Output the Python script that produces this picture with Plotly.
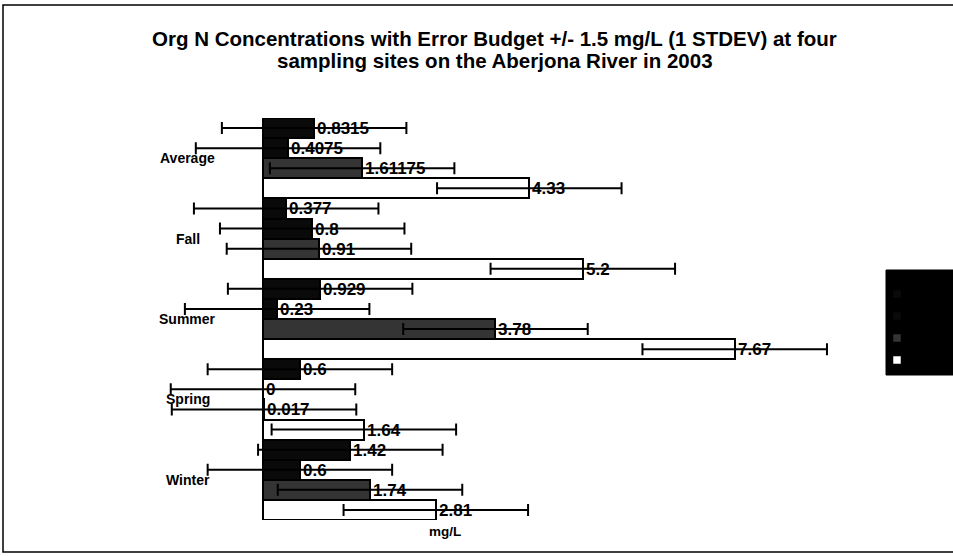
import plotly.graph_objects as go

# Seasons, bottom to top on the category axis
seasons = ["Winter", "Spring", "Summer", "Fall", "Average"]

# Org N concentrations (mg/L) for each sampling site, per season
site1 = [1.42, 0.6, 0.929, 0.377, 0.8315]
site2 = [0.6, 0, 0.23, 0.8, 0.4075]
site3 = [1.74, 0.017, 3.78, 0.91, 1.61175]
site4 = [2.81, 1.64, 7.67, 5.2, 4.33]
site_names = ["Site 1", "Site 2", "Site 3", "Site 4"]

error_budget = 1.5  # +/- 1 STDEV, mg/L

W, H = 953, 556
PL, PR, PT, PB = 128, 860, 118, 520     # plot area in pixels
X_MIN, X_MAX = -2.195, 9.707

FONT = "Liberation Sans, Arial, sans-serif"

# draw order: first trace sits at the bottom of each group
series = [
    (site_names[3], site4, "#ffffff"),
    (site_names[2], site3, "#343434"),
    (site_names[1], site2, "#0a0a0a"),
    (site_names[0], site1, "#0a0a0a"),
]

fig = go.Figure()
for name, vals, color in series:
    fig.add_trace(go.Bar(
        name=name,
        y=seasons,
        x=vals,
        orientation="h",
        marker=dict(color=color, line=dict(color="black", width=2)),
        error_x=dict(type="data", array=[error_budget] * len(vals),
                     symmetric=True, color="black", thickness=2, width=6),
        text=[f"{v:g}" for v in vals],
        textposition="outside",
        textfont=dict(family=FONT, size=17, color="black", weight="bold"),
        constraintext="none",
        cliponaxis=False,
        showlegend=False,
    ))


def px_x(p):
    return (p - PL) / (PR - PL)


def px_y(p):
    return (PB - p) / (PB - PT)


annotations = []
# title, one annotation per line to control the line spacing
for line, yc in [("Org N Concentrations with Error Budget +/- 1.5 mg/L (1 STDEV) at four", 38),
                 ("sampling sites on the Aberjona River in 2003", 60)]:
    annotations.append(dict(
        x=px_x(495), y=px_y(yc), xref="paper", yref="paper", text=line,
        showarrow=False, xanchor="center", yanchor="middle",
        font=dict(family=FONT, size=20.5, color="black", weight="bold"),
    ))

for s in seasons:
    annotations.append(dict(
        x=-1.22, y=s, xref="x", yref="y", text=s, showarrow=False,
        xanchor="center", yanchor="middle",
        font=dict(family=FONT, size=14, color="black", weight="bold"),
    ))
annotations.append(dict(
    x=px_x(445), y=px_y(531), xref="paper", yref="paper", text="mg/L",
    showarrow=False, xanchor="center", yanchor="middle",
    font=dict(family=FONT, size=13.5, color="black", weight="bold"),
))

shapes = [dict(
    type="rect", xref="paper", yref="paper",
    x0=px_x(3), x1=px_x(990), y0=px_y(552), y1=px_y(5),
    line=dict(color="black", width=1.5), fillcolor="rgba(0,0,0,0)",
    layer="below",
)]

# legend box: black panel with swatches and black entry names
shapes.append(dict(
    type="rect", xref="paper", yref="paper",
    x0=px_x(886), x1=px_x(990), y0=px_y(375), y1=px_y(270),
    line=dict(color="black", width=1), fillcolor="black", layer="above",
))
legend_rows = [(site_names[0], "#0a0a0a", 294), (site_names[1], "#0a0a0a", 316),
               (site_names[2], "#343434", 338), (site_names[3], "#ffffff", 360)]
for name, color, yc in legend_rows:
    shapes.append(dict(
        type="rect", xref="paper", yref="paper",
        x0=px_x(893), x1=px_x(901), y0=px_y(yc + 4), y1=px_y(yc - 4),
        line=dict(color="black", width=0.5), fillcolor=color, layer="above",
    ))
    annotations.append(dict(
        x=px_x(906), y=px_y(yc), xref="paper", yref="paper", text=name,
        showarrow=False, xanchor="left", yanchor="middle",
        font=dict(family=FONT, size=13, color="black"),
    ))

fig.update_layout(
    width=W, height=H,
    margin=dict(l=PL, r=W - PR, t=PT, b=H - PB, pad=0),
    paper_bgcolor="white", plot_bgcolor="white",
    barmode="group", bargap=0, bargroupgap=0,
    xaxis=dict(range=[X_MIN, X_MAX], showgrid=False, showticklabels=False,
               ticks="", zeroline=True, zerolinecolor="black", zerolinewidth=2,
               showline=False),
    yaxis=dict(showgrid=False, showticklabels=False, ticks="", showline=False,
               categoryorder="array", categoryarray=seasons),
    showlegend=False,
    annotations=annotations,
    shapes=shapes,
)

fig.write_html("out.html")
